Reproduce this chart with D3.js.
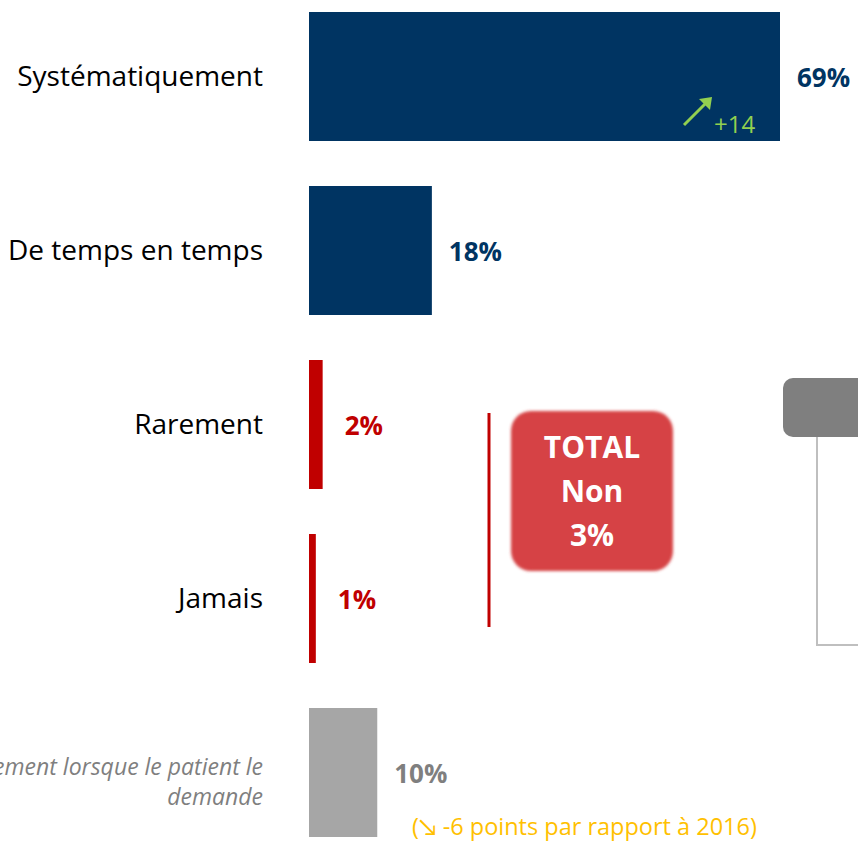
<!DOCTYPE html>
<html>
<head>
<meta charset="utf-8">
<script src="https://cdn.jsdelivr.net/npm/d3@7"></script>
<style>
  body { margin: 0; background: #fff; overflow: hidden; }
  svg { display: block; font-family: "Open Sans", Lato, sans-serif; }
</style>
</head>
<body>
<svg id="chart" width="858" height="841"></svg>
<script>
// données
let categories = ["Systématiquement", "De temps en temps", "Rarement", "Jamais", "Uniquement lorsque le patient le demande"];
let values = [69, 18, 2, 1, 10];
let groups = ["oui", "oui", "non", "non", "autre"];
let evolution = ["+14", null, null, null, null];
let totalNon = 3;
let noteText = "(\u2198 -6 points par rapport à 2016)";

let width = 858, height = 841;
let svg = d3.select('#chart');

let color = d3.scaleOrdinal()
  .domain(["oui", "non", "autre"])
  .range(["#003462", "#c00000", "#a6a6a6"]);
let labelColor = d3.scaleOrdinal()
  .domain(["oui", "non", "autre"])
  .range(["#003462", "#c00000", "#7f7f7f"]);

let x = d3.scaleLinear()
  .domain([0, 69])
  .range([309, 780]);

let y = d3.scaleBand()
  .domain(categories)
  .range([12, 12 + 5 * 174 - 45])
  .paddingInner(45 / 174)
  .paddingOuter(0);

let data = categories.map((c, i) => ({cat: c, v: values[i], g: groups[i], evo: evolution[i]}));

// barres
svg.append("g")
  .selectAll("rect")
  .data(data)
  .join("rect")
    .attr("x", x(0))
    .attr("y", d => y(d.cat))
    .attr("width", d => Math.max(4, x(d.v) - x(0)))
    .attr("height", y.bandwidth())
    .attr("fill", d => color(d.g));

// libellés des catégories
svg.append("g")
  .selectAll("text")
  .data(data)
  .join("text")
    .attr("x", 263)
    .attr("text-anchor", "end")
    .attr("font-size", 28)
    .attr("fill", d => d.g == "autre" ? "#7f7f7f" : "#000")
    .attr("font-style", d => d.g == "autre" ? "italic" : null)
    .each(function(d) {
      let t = d3.select(this);
      let cy = y(d.cat) + y.bandwidth() / 2;
      if (d.g == "autre") {
        t.attr("font-size", 23);
        t.append("tspan").attr("x", 263).attr("y", cy + 2).text("Uniquement lorsque le patient le");
        t.append("tspan").attr("x", 263).attr("y", cy + 32).text("demande");
      } else {
        t.attr("y", cy).attr("dy", "0.35em").text(d.cat);
      }
    });

// valeurs
svg.append("g")
  .selectAll("text")
  .data(data)
  .join("text")
    .attr("x", d => Math.max(x(d.v), x(0) + 4) + (d.g == "non" ? 22 : 17))
    .attr("y", d => y(d.cat) + y.bandwidth() / 2 + 1)
    .attr("dy", "0.35em")
    .attr("font-size", 26)
    .attr("font-weight", "bold")
    .attr("fill", d => labelColor(d.g))
    .text(d => d.v + "%");

// évolution +14
let e = data[0];
let ex = x(e.v) - 96, ey = y(e.cat) + y.bandwidth() - 16;
svg.append("line")
  .attr("x1", ex).attr("y1", ey)
  .attr("x2", ex + 22).attr("y2", ey - 22)
  .attr("stroke", "#92d050").attr("stroke-width", 3);
svg.append("path")
  .attr("d", `M${ex + 28},${ey - 28} l-13,2 l11,11 z`)
  .attr("fill", "#92d050");
svg.append("text")
  .attr("x", ex + 30).attr("y", ey + 8)
  .attr("font-size", 24)
  .attr("fill", "#92d050")
  .text(e.evo);

// accolade "non"
svg.append("line")
  .attr("x1", 489).attr("x2", 489)
  .attr("y1", 413).attr("y2", 627)
  .attr("stroke", "#c00000").attr("stroke-width", 3);

let defs = svg.append("defs");
defs.append("filter").attr("id", "soft")
  .attr("x", "-10%").attr("y", "-10%").attr("width", "120%").attr("height", "120%")
  .append("feGaussianBlur").attr("stdDeviation", 1.6);

svg.append("rect")
  .attr("x", 511).attr("y", 411)
  .attr("width", 162).attr("height", 160)
  .attr("rx", 20)
  .attr("fill", "#d64244")
  .attr("filter", "url(#soft)");

svg.append("g")
  .selectAll("text")
  .data(["TOTAL", "Non", totalNon + "%"])
  .join("text")
    .attr("x", 592)
    .attr("y", (d, i) => 447 + i * 44)
    .attr("dy", "0.35em")
    .attr("text-anchor", "middle")
    .attr("font-size", 30)
    .attr("font-weight", "bold")
    .attr("fill", "#fff")
    .text(d => d);

// encadré gris (coupé à droite)
svg.append("rect")
  .attr("x", 783).attr("y", 378)
  .attr("width", 110).attr("height", 59)
  .attr("rx", 10)
  .attr("fill", "#7f7f7f");
svg.append("path")
  .attr("d", "M817,437 V645 H860")
  .attr("fill", "none")
  .attr("stroke", "#bfbfbf")
  .attr("stroke-width", 2);

// note
svg.append("text")
  .attr("x", 412).attr("y", 835)
  .attr("font-size", 23.5)
  .attr("fill", "#ffc000")
  .text(noteText);
</script>
</body>
</html>
